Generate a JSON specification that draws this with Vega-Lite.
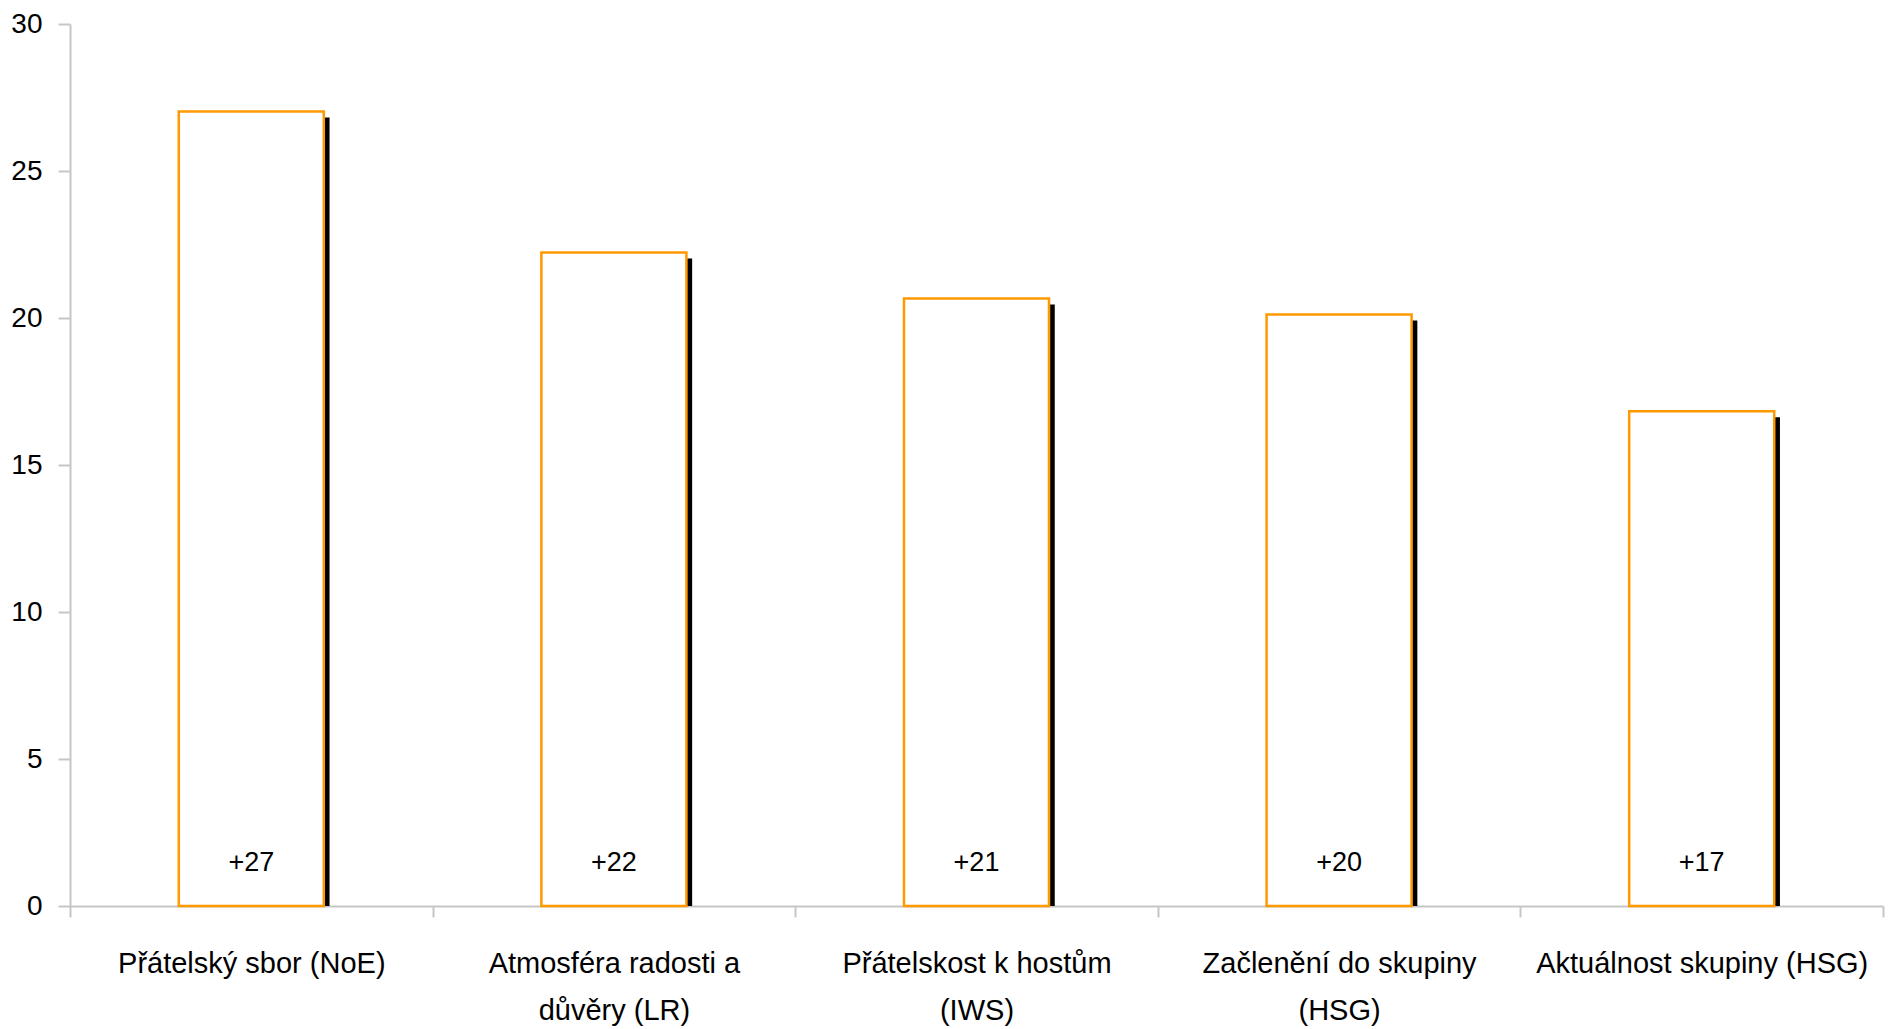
{
  "$schema": "https://vega.github.io/schema/vega-lite/v6.json",
  "width": 1813,
  "height": 882,
  "autosize": {"type": "none"},
  "padding": {"left": 70, "top": 24, "right": 12, "bottom": 123},
  "background": "white",
  "config": {"view": {"stroke": null}, "font": "Liberation Sans"},
  "data": {
    "values": [
      {"kategorie": "Přátelský sbor (NoE)", "hodnota": 27.02, "popisek": "+27"},
      {"kategorie": "Atmosféra radosti a|důvěry (LR)", "hodnota": 22.23, "popisek": "+22"},
      {"kategorie": "Přátelskost k hostům|(IWS)", "hodnota": 20.66, "popisek": "+21"},
      {"kategorie": "Začlenění do skupiny|(HSG)", "hodnota": 20.12, "popisek": "+20"},
      {"kategorie": "Aktuálnost skupiny (HSG)", "hodnota": 16.83, "popisek": "+17"}
    ]
  },
  "encoding": {
    "x": {
      "field": "kategorie",
      "type": "nominal",
      "sort": null,
      "scale": {"paddingInner": 0, "paddingOuter": 0},
      "axis": {
        "title": null,
        "labelAngle": 0,
        "labelExpr": "split(datum.label, '|')",
        "labelFontSize": 29,
        "labelColor": "#000000",
        "labelLineHeight": 47,
        "labelPadding": 32,
        "labelBaseline": "top",
        "tickBand": "extent",
        "tickSize": 11,
        "tickColor": "#c6c6c6",
        "tickWidth": 2,
        "domainColor": "#c6c6c6",
        "domainWidth": 2,
        "labelLimit": 400
      }
    }
  },
  "layer": [
    {
      "mark": {"type": "rule", "color": "#000000", "strokeWidth": 5.5, "xOffset": 75.5, "yOffset": 6},
      "encoding": {
        "y": {
          "field": "hodnota",
          "type": "quantitative",
          "scale": {"domain": [0, 30], "nice": false},
          "axis": {
            "title": null,
            "values": [0, 5, 10, 15, 20, 25, 30],
            "grid": false,
            "labelFontSize": 28,
            "labelColor": "#000000",
            "labelPadding": 16,
            "tickSize": 12,
            "tickColor": "#c6c6c6",
            "tickWidth": 2,
            "domainColor": "#c6c6c6",
            "domainWidth": 2
          }
        },
        "y2": {"datum": 0}
      }
    },
    {
      "mark": {"type": "bar", "fill": "#ffffff", "stroke": "#ff9900", "strokeWidth": 2.5, "width": {"band": 0.4}},
      "encoding": {
        "y": {"field": "hodnota", "type": "quantitative"}
      }
    },
    {
      "mark": {"type": "text", "fontSize": 27, "color": "#000000", "dy": -43, "baseline": "middle"},
      "encoding": {
        "y": {"datum": 0, "type": "quantitative"},
        "text": {"field": "popisek"}
      }
    }
  ]
}
